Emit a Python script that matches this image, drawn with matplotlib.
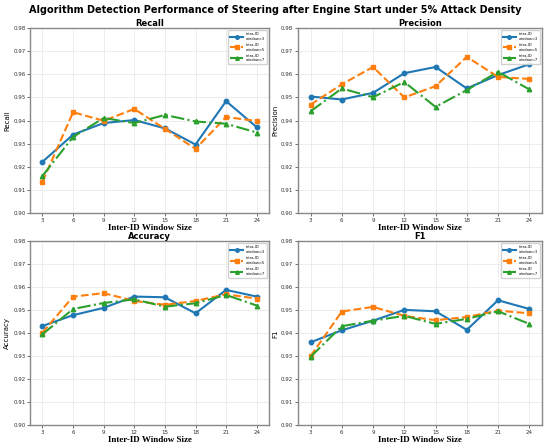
import matplotlib.pyplot as plt

windows = [3, 6, 9, 12, 15, 18, 21, 24]
series_labels = ["intra-ID\nwindow=3", "intra-ID\nwindow=5", "intra-ID\nwindow=7"]

recall_w3 = [0.9221, 0.9339, 0.9389, 0.9402, 0.9366, 0.9296, 0.9484, 0.9371]
recall_w5 = [0.9135, 0.9436, 0.9399, 0.9450, 0.9364, 0.9277, 0.9415, 0.9398]
recall_w7 = [0.9160, 0.9329, 0.9411, 0.9389, 0.9424, 0.9396, 0.9386, 0.9348]

precision_w3 = [0.9504, 0.9491, 0.9520, 0.9605, 0.9632, 0.9539, 0.9597, 0.9644]
precision_w5 = [0.9469, 0.9557, 0.9632, 0.9500, 0.9549, 0.9676, 0.9589, 0.9580]
precision_w7 = [0.9440, 0.9539, 0.9501, 0.9567, 0.9459, 0.9532, 0.9611, 0.9535]

accuracy_w3 = [0.9432, 0.9479, 0.9511, 0.9560, 0.9557, 0.9487, 0.9589, 0.9560]
accuracy_w5 = [0.9403, 0.9560, 0.9575, 0.9541, 0.9524, 0.9541, 0.9570, 0.9551]
accuracy_w7 = [0.9396, 0.9506, 0.9532, 0.9548, 0.9516, 0.9531, 0.9567, 0.9521]

f1_w3 = [0.9361, 0.9413, 0.9455, 0.9502, 0.9496, 0.9415, 0.9544, 0.9506]
f1_w5 = [0.9301, 0.9495, 0.9515, 0.9476, 0.9457, 0.9471, 0.9499, 0.9487]
f1_w7 = [0.9298, 0.9431, 0.9455, 0.9476, 0.9441, 0.9463, 0.9496, 0.9441]

yticks = [0.90, 0.91, 0.92, 0.93, 0.94, 0.95, 0.96, 0.97, 0.98]

panels = [
    ("Recall", [recall_w3, recall_w5, recall_w7]),
    ("Precision", [precision_w3, precision_w5, precision_w7]),
    ("Accuracy", [accuracy_w3, accuracy_w5, accuracy_w7]),
    ("F1", [f1_w3, f1_w5, f1_w7]),
]

styles = [
    dict(color="#1f77b4", linestyle="-", marker="o", markersize=3.2),
    dict(color="#ff7f0e", linestyle="--", marker="s", markersize=3.4),
    dict(color="#2ca02c", linestyle="-.", marker="^", markersize=3.2),
]

# axes rectangles [left, bottom, width, height] in figure fraction
rects = [
    [0.055, 0.525, 0.434, 0.412],
    [0.542, 0.525, 0.443, 0.412],
    [0.055, 0.051, 0.434, 0.410],
    [0.542, 0.051, 0.443, 0.410],
]

fig = plt.figure(figsize=(5.5, 4.48), dpi=100)
fig.suptitle("Algorithm Detection Performance of Steering after Engine Start under 5% Attack Density",
             fontsize=7, fontweight="bold", y=0.988)

for (name, data), rect in zip(panels, rects):
    ax = fig.add_axes(rect)
    for vals, lab, st in zip(data, series_labels, styles):
        ax.plot(windows, vals, label=lab, linewidth=1.5, **st)
    ax.set_ylim(0.90, 0.98)
    ax.set_yticks(yticks)
    ax.set_yticklabels([f"{t:.2f}" for t in yticks])
    ax.set_xticks(windows)
    ax.set_xlim(1.8, 25.2)
    ax.tick_params(labelsize=4, length=2, width=0.5, pad=1.5, colors="#333333")
    ax.grid(True, color="#e6e6e6", linewidth=0.5)
    for sp in ax.spines.values():
        sp.set_color("#888888")
        sp.set_linewidth(1.0)
    ax.set_title(name, fontsize=6, fontweight="bold", pad=1.5)
    ax.set_ylabel(name, fontsize=5, labelpad=2)
    ax.set_xlabel("Inter-ID Window Size", fontsize=6.5, fontweight="bold",
                  family="Liberation Serif", labelpad=1)
    ax.legend(loc="upper right", fontsize=2.6, handlelength=3.5, markerscale=0.8,
              borderpad=0.6, labelspacing=0.6, framealpha=0.9, edgecolor="#cccccc")

fig.savefig("out.png", dpi=100)
